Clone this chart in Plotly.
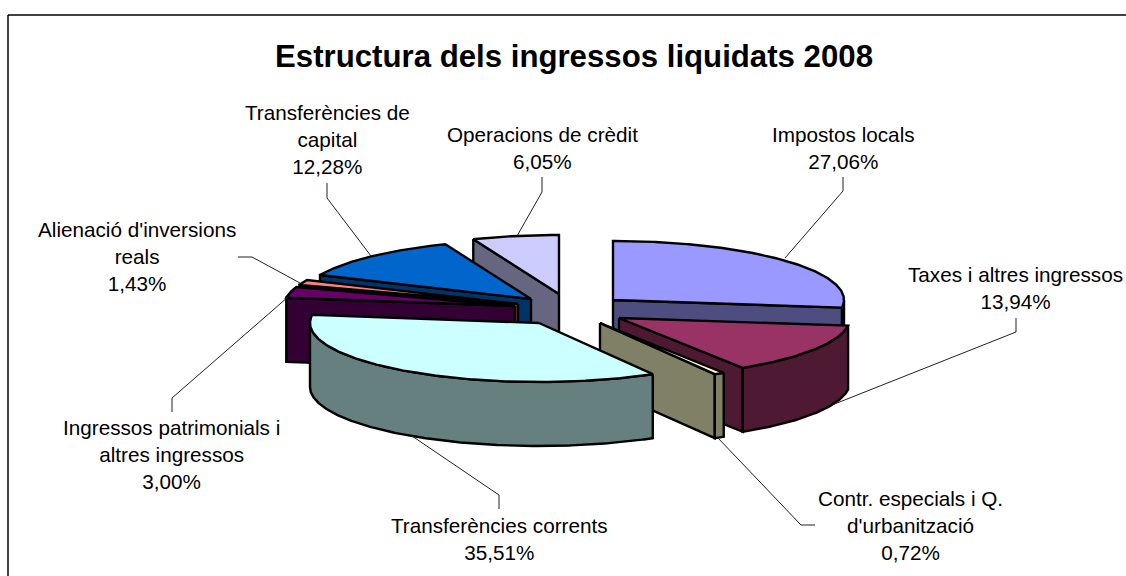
import numpy as np
import plotly.graph_objects as go

# ---- data ----
categories = ["Impostos locals", "Taxes i altres ingressos",
              "Contr. especials i Q. d'urbanització", "Transferències corrents",
              "Ingressos patrimonials i altres ingressos", "Alienació d'inversions reals",
              "Transferències de capital", "Operacions de crèdit"]
values = [27.06, 13.94, 0.72, 35.51, 3.00, 1.43, 12.28, 6.05]
label_names = ["Impostos locals", "Taxes i altres ingressos",
               "Contr. especials i Q.<br>d'urbanització", "Transferències corrents",
               "Ingressos patrimonials i<br>altres ingressos", "Alienació d'inversions<br>reals",
               "Transferències de<br>capital", "Operacions de crèdit"]
title_text = "Estructura dels ingressos liquidats 2008"

# ---- style and layout ----
top_colors = ["#9999FF", "#993366", "#FFFFCC", "#CCFFFF", "#660066", "#FF8080", "#0066CC", "#CCCCFF"]
wall_colors = ["#4D4D80", "#4D1933", "#808066", "#668080", "#330033", "#804040", "#003366", "#666680"]
apex_x = [613, 619, 600, 539, 515, 518, 531, 559]
apex_y = [300, 318, 323, 323, 306, 304, 299, 294]
radius_x = [231, 231, 231, 229, 231, 231, 231, 231]
label_x = [843, 1015, 910, 499, 171, 137, 327, 542]
label_y = [147.5, 287.5, 525, 539, 454.5, 256.5, 139, 147.5]
leaders = [[(785, 258), (843, 191), (843, 177)],
           [(832, 405), (1016, 332), (1016, 318)],
           [(718, 438), (801, 525), (815, 525)],
           [(412, 436), (499, 495), (499, 509)],
           [(288, 297), (172, 398), (172, 412)],
           [(300, 283), (252, 257), (238, 257)],
           [(371, 256), (327, 198), (327, 183)],
           [(517, 236), (542, 192), (542, 177)]]
RY, DEPTH = 59, 64
draw_order = [7, 6, 5, 4, 0, 1, 2, 3]
FONT = "Liberation Sans, Arial, sans-serif"

cum = np.cumsum([0] + values)
total = cum[-1]
starts = cum[:-1] / total * 360
ends = cum[1:] / total * 360


def arc(i, a0, a1):
    t = np.radians(np.linspace(a0, a1, max(int(abs(a1 - a0) * 2), 2)))
    return apex_x[i] + radius_x[i] * np.sin(t), apex_y[i] - RY * np.cos(t)


def poly(fig, x, y, color):
    fig.add_trace(go.Scatter(x=list(x) + [x[0]], y=list(y) + [y[0]], mode="lines", fill="toself",
                             fillcolor=color, line=dict(color="black", width=2.4),
                             hoverinfo="skip", showlegend=False))


fig = go.Figure()
for i in draw_order:
    s, e = starts[i], ends[i]
    ax, ay = apex_x[i], apex_y[i]
    # radial side faces turned to the viewer
    for ang, vis in ((s, 180 < s < 360), (e, 0 < e < 180)):
        if vis:
            ox, oy = arc(i, ang, ang)
            poly(fig, [ax, ox[0], ox[0], ax], [ay, oy[0], oy[0] + DEPTH, ay + DEPTH], wall_colors[i])
    # outer rim, front half only
    r0, r1 = max(s, 90), min(e, 270)
    if r1 > r0:
        rx, ry = arc(i, r0, r1)
        poly(fig, np.r_[rx, rx[::-1]], np.r_[ry, ry[::-1] + DEPTH], wall_colors[i])
    # top face
    tx, ty = arc(i, s, e)
    poly(fig, np.r_[ax, tx], np.r_[ay, ty], top_colors[i])

for pts in leaders:
    fig.add_trace(go.Scatter(x=[p[0] for p in pts], y=[p[1] for p in pts], mode="lines",
                             line=dict(color="#222222", width=1), hoverinfo="skip", showlegend=False))

annotations = [dict(x=label_x[i], y=label_y[i], xref="x", yref="y", xanchor="center", yanchor="middle",
                    text=label_names[i] + "<br>" + f"{values[i]:.2f}%".replace(".", ","), showarrow=False,
                    font=dict(family=FONT, size=20.7, color="black"), align="center")
               for i in range(len(values))]
annotations.append(dict(x=573.5, y=56, xref="x", yref="y", xanchor="center", yanchor="middle",
                        text=f"<b>{title_text}</b>", showarrow=False,
                        font=dict(family=FONT, size=31.2, color="black")))

shapes = [dict(type="line", xref="x", yref="y", x0=8, y0=576, x1=8, y1=15, line=dict(color="black", width=1.5)),
          dict(type="line", xref="x", yref="y", x0=8, y0=15, x1=1126, y1=15, line=dict(color="black", width=1.5))]

fig.update_layout(width=1126, height=576, margin=dict(l=0, r=0, t=0, b=0),
                  paper_bgcolor="white", plot_bgcolor="white", showlegend=False,
                  xaxis=dict(range=[0, 1126], visible=False, fixedrange=True),
                  yaxis=dict(range=[576, 0], visible=False, fixedrange=True),
                  annotations=annotations, shapes=shapes)
fig.write_html("out.html", config={"displayModeBar": False},
               post_script="document.body.style.margin='0';document.body.style.overflow='hidden';")
